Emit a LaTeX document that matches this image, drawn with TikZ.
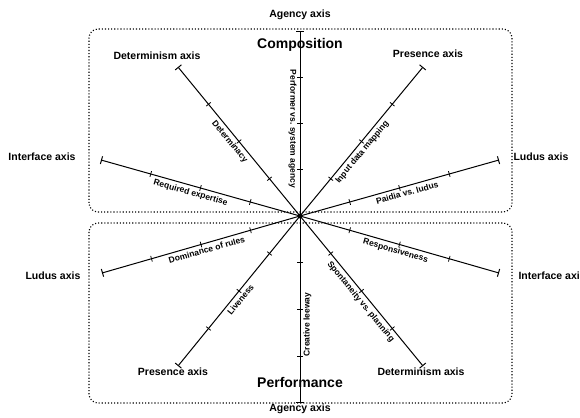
\documentclass[tikz,border=0pt]{standalone}
\usepackage{fontspec}
\setmainfont{Liberation Sans}
\usetikzlibrary{arrows.meta}
\usetikzlibrary{decorations.markings}

\tikzset{
  tick/.style={-, line width=0.8pt},
  axis/.style={line width=1pt, {Bar[width=8pt]}-,
    postaction={decorate},
    decoration={markings,
      mark=at position 0.25 with {\draw[tick] (0,-3pt) -- (0,3pt);},
      mark=at position 0.5 with {\draw[tick] (0,-3pt) -- (0,3pt);},
      mark=at position 0.75 with {\draw[tick] (0,-3pt) -- (0,3pt);}}},
  lbl/.style={font=\fontsize{8.5}{10}\selectfont\bfseries, inner sep=1pt},
  axisname/.style={font=\fontsize{10.5}{12}\selectfont\bfseries},
  title/.style={font=\fontsize{14}{16}\selectfont\bfseries},
  region/.style={dotted, line width=1.1pt, rounded corners=9pt}
}

\begin{document}
\begin{tikzpicture}[x=1pt, y=1pt]
  \useasboundingbox (-300,-201) rectangle (280,216);

  % the two regions
  \draw[region] (-211,4) rectangle (212,187);
  \draw[region] (-211,-7) rectangle (212,-187);

  \node[axisname] (agencytop) at (0,201) {Agency axis};
  \node[axisname] (agencybot) at (0,-193) {Agency axis};
  \node[title] (comp) at (0,171) {Composition};
  \node[title] (perf) at (0,-166) {Performance};

  \node[axisname] (detTL) at (-143,160) {Determinism axis};
  \node[axisname] (preTR) at (128,162) {Presence axis};
  \node[axisname] (intL) at (-258,59) {Interface axis};
  \node[axisname] (ludR) at (241,59) {Ludus axis};
  \node[axisname] (ludL) at (-247,-60) {Ludus axis};
  \node[axisname, anchor=west] (intR) at (215,-60) {Interface axis};
  \node[axisname] (preBL) at (-127,-156) {Presence axis};
  \node[axisname] (detBR) at (121,-156) {Determinism axis};

  % axis ends
  \coordinate (O) at (0,0);
  \foreach \n/\x/\y in {AgU/0/185, AgD/0/-187, DetU/-122/149, PreU/123/149,
      IntL/-199/56, LudR/199/56, LudL/-198/-57, PreD/-122/-150,
      IntR/199/-57, DetD/123/-150} {
    \coordinate (\n) at (\x,\y);
  }

  \foreach \e/\p/\lab in {AgU/0.53/Performer vs.\ system agency,
      AgD/0.42/Creative leeway, DetU/0.47/Determinacy,
      PreU/0.54/Input data mapping, IntL/0.46/Required expertise,
      LudR/0.47/Paidia vs.\ ludus, LudL/0.52/Dominance of rules,
      PreD/0.47/Liveness, IntR/0.51/Responsiveness,
      DetD/0.46/Spontaneity vs.\ planning} {
    \draw[axis] (\e) -- (O) node[pos=\p, sloped, below=2pt, lbl] {\lab};
  }

  \fill (O) circle (2.5);

\end{tikzpicture}
\end{document}
